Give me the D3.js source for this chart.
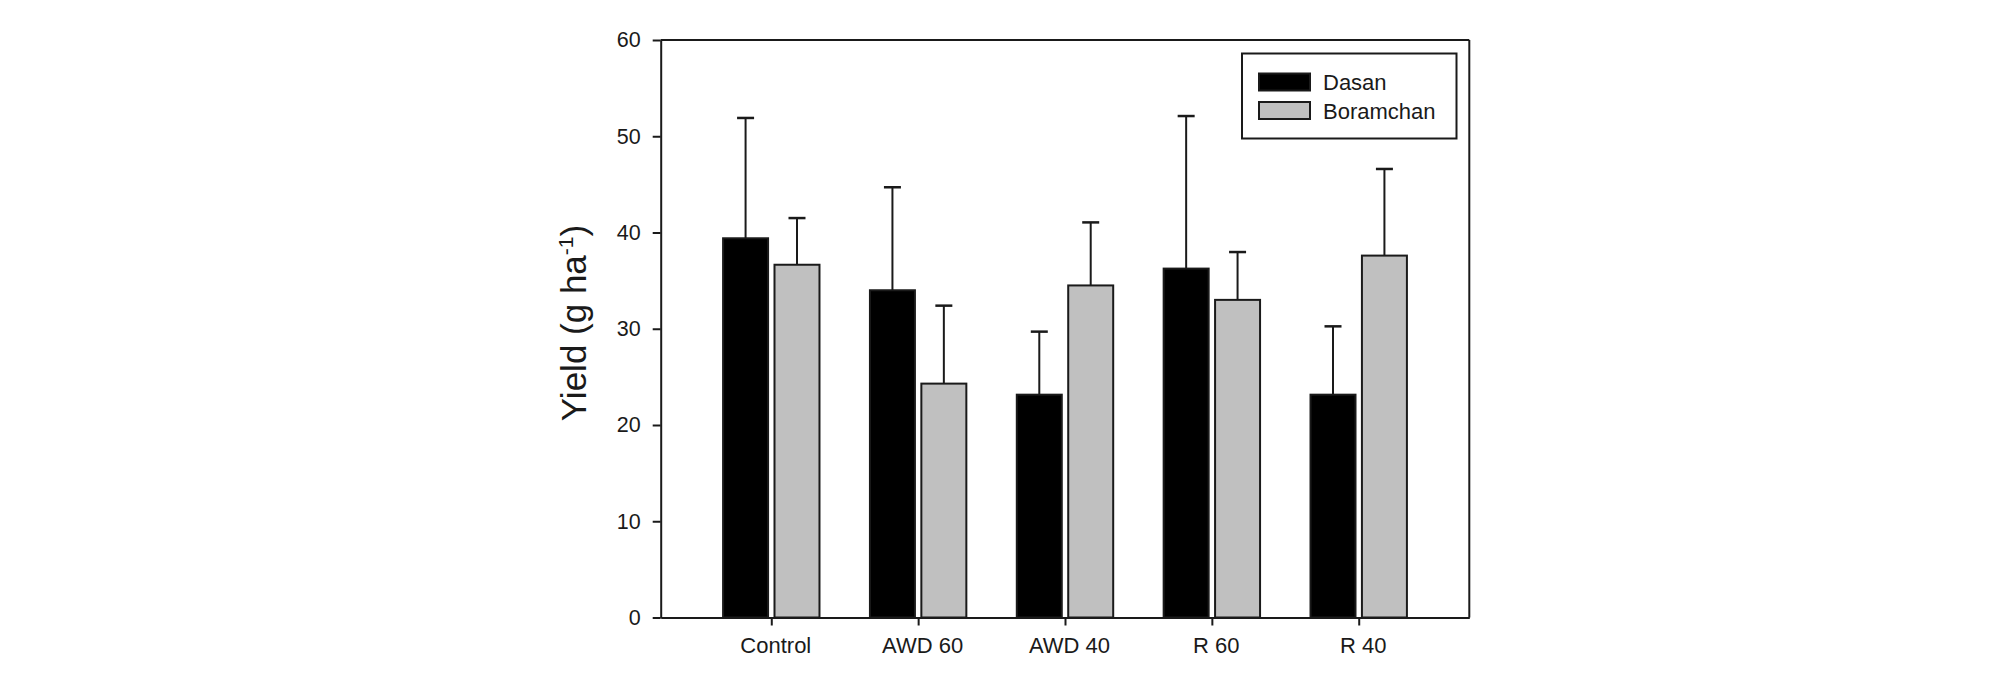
<!DOCTYPE html>
<html>
<head>
<meta charset="utf-8">
<script src="https://cdn.jsdelivr.net/npm/d3@7"></script>
<style>
  html, body { margin: 0; padding: 0; background: #fff; }
  svg { display: block; font-family: "Liberation Sans", Arial, sans-serif; }
</style>
</head>
<body>
<svg id="chart" width="2008" height="675"></svg>
<script>
// ---- data ----
const categories = ["Control", "AWD 60", "AWD 40", "R 60", "R 40"];
const seriesNames = ["Dasan", "Boramchan"];
const dasanValues = [39.4, 34.0, 23.15, 36.25, 23.15];
const dasanErrors = [12.5, 10.7, 6.55, 15.85, 7.1];
const boramchanValues = [36.65, 24.3, 34.5, 33.0, 37.6];
const boramchanErrors = [4.85, 8.1, 6.55, 4.97, 9.0];
const yTicks = [0, 10, 20, 30, 40, 50, 60];
const yLabel = "Yield (g ha";
const yLabelSup = "-1";

const seriesColors = ["#000000", "#c0c0c0"];

// ---- layout ----
const svg = d3.select("#chart");
const plotLeft = 660.7, plotRight = 1469.3, plotTop = 40, plotBottom = 617.5;
const ink = "#1a1a1a";

const x = d3.scalePoint().domain(categories).range([plotLeft, plotRight]).padding(0.753);
const xInner = d3.scaleBand().domain(seriesNames).range([-48.2, 48.2]).paddingInner(0.125);
const y = d3.scaleLinear().domain([0, 60]).range([plotBottom, plotTop]);

const series = [
  { name: seriesNames[0], values: dasanValues, errors: dasanErrors, color: seriesColors[0] },
  { name: seriesNames[1], values: boramchanValues, errors: boramchanErrors, color: seriesColors[1] }
];

// ---- frame (top & right) ----
svg.append("line").attr("x1", plotLeft).attr("x2", plotRight).attr("y1", plotTop).attr("y2", plotTop)
  .attr("stroke", ink).attr("stroke-width", 2);
svg.append("line").attr("x1", plotRight).attr("x2", plotRight).attr("y1", plotTop).attr("y2", plotBottom)
  .attr("stroke", ink).attr("stroke-width", 2);

// ---- bars + error bars ----
series.forEach(s => {
  const g = svg.append("g");
  categories.forEach((c, i) => {
    const bx = x(c) + xInner(s.name);
    const bw = xInner.bandwidth();
    const cx = bx + bw / 2;
    const yTop = y(s.values[i] + s.errors[i]);
    g.append("line").attr("x1", cx).attr("x2", cx)
      .attr("y1", y(s.values[i])).attr("y2", yTop)
      .attr("stroke", ink).attr("stroke-width", 2);
    g.append("line").attr("x1", cx - 8.5).attr("x2", cx + 8.5)
      .attr("y1", yTop).attr("y2", yTop)
      .attr("stroke", ink).attr("stroke-width", 2.5);
    g.append("rect")
      .attr("x", bx).attr("width", bw)
      .attr("y", y(s.values[i])).attr("height", y(0) - y(s.values[i]))
      .attr("fill", s.color).attr("stroke", ink).attr("stroke-width", 2);
  });
});

// ---- axes ----
const yAxis = d3.axisLeft(y).tickValues(yTicks).tickSize(8).tickSizeOuter(0).tickPadding(12);
const gy = svg.append("g").attr("transform", `translate(${plotLeft},0)`).call(yAxis);
gy.select(".domain").attr("stroke", ink).attr("stroke-width", 2);
gy.selectAll(".tick line").attr("stroke", ink).attr("stroke-width", 2);
gy.selectAll(".tick text").attr("fill", ink).attr("font-size", 21.5)
  .attr("font-family", "'Liberation Sans', Arial, sans-serif");

const xAxis = d3.axisBottom(x).tickSize(8).tickSizeOuter(0).tickPadding(11.5);
const gx = svg.append("g").attr("transform", `translate(0,${plotBottom})`).call(xAxis);
gx.select(".domain").attr("stroke", ink).attr("stroke-width", 2);
gx.selectAll(".tick line").attr("stroke", ink).attr("stroke-width", 2);
gx.selectAll(".tick text").attr("fill", ink).attr("font-size", 22).attr("dx", 4)
  .attr("font-family", "'Liberation Sans', Arial, sans-serif");

// ---- y label ----
const yl = svg.append("text")
  .attr("transform", `translate(586,323) rotate(-90)`)
  .attr("text-anchor", "middle")
  .attr("font-size", 35).attr("fill", ink);
yl.append("tspan").text(yLabel);
yl.append("tspan").attr("font-size", 21).attr("dy", -13).text(yLabelSup);
yl.append("tspan").attr("dy", 13).text(")");

// ---- legend ----
const lg = svg.append("g");
lg.append("rect").attr("x", 1242).attr("y", 53.5).attr("width", 214.5).attr("height", 85)
  .attr("fill", "#fff").attr("stroke", ink).attr("stroke-width", 2);
series.forEach((s, i) => {
  const sy = 73.5 + i * 28.5;
  lg.append("rect").attr("x", 1259).attr("y", sy).attr("width", 51).attr("height", 17)
    .attr("fill", s.color).attr("stroke", ink).attr("stroke-width", 2);
  lg.append("text").attr("x", 1323).attr("y", sy + 16.5)
    .attr("font-size", 22).attr("fill", ink).text(s.name);
});
</script>
</body>
</html>
